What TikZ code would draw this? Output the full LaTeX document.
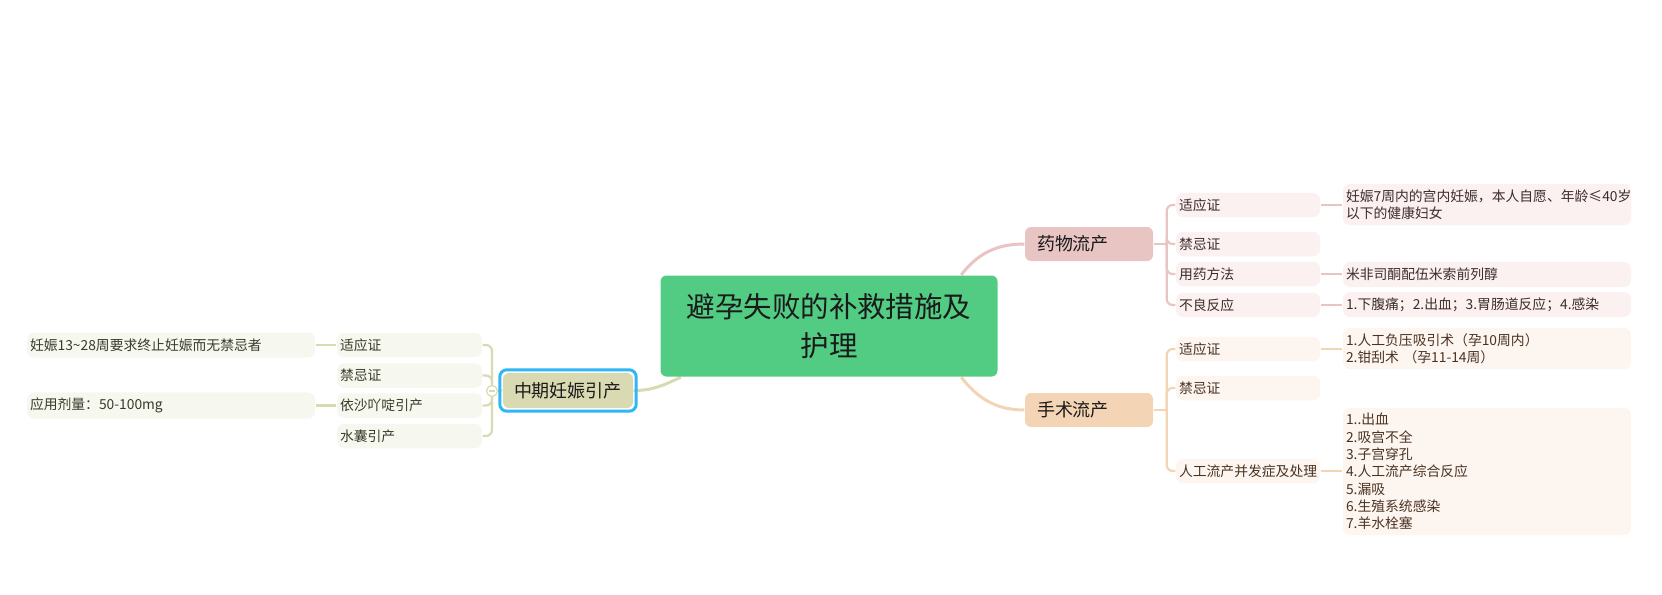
\documentclass[tikz,border=0pt]{standalone}
\usepackage{fontspec}
\setmainfont{Noto Sans CJK SC}
\usetikzlibrary{backgrounds}
\definecolor{RootGreen}{HTML}{52CC83}
\definecolor{DrugFill}{HTML}{E8C4C3}
\definecolor{DrugSub}{HTML}{FBF1F0}
\definecolor{DrugText}{HTML}{3E2C2C}
\definecolor{SurgFill}{HTML}{F3D4B4}
\definecolor{SurgSub}{HTML}{FDF5F0}
\definecolor{SurgText}{HTML}{4A3322}
\definecolor{MidFill}{HTML}{D9DAB2}
\definecolor{MidSub}{HTML}{F6F7EE}
\definecolor{MidText}{HTML}{3A3A2A}
\definecolor{SelBlue}{HTML}{2EB6F7}
\definecolor{Ink}{HTML}{1A1A1A}

\begin{document}
\begin{tikzpicture}[
  root/.style={fill=RootGreen, rounded corners=0.06cm, minimum width=3.37cm,
    minimum height=1.01cm, align=center, text=Ink,
    font=\fontsize{8.1}{11.1}\selectfont},
  topic/.style={rounded corners=0.06cm, inner xsep=0.12cm, inner ysep=0pt,
    text width=1.04cm, align=left, minimum height=0.34cm, text=Ink,
    font=\fontsize{5.12}{6}\selectfont},
  subbox/.style={rounded corners=0.07cm, inner xsep=0.03cm, inner ysep=0pt,
    text width=1.38cm, align=left, minimum height=0.245cm,
    font=\fontsize{3.93}{4.92}\selectfont},
  leafbox/.style={rounded corners=0.07cm, inner xsep=0.03cm, inner ysep=0.055cm,
    text width=2.82cm, align=left, minimum height=0.25cm,
    font=\fontsize{3.93}{4.92}\selectfont},
  mainlink/.style={line width=0.03cm},
  branch/.style={line width=0.022cm},
  foldmark/.style={circle, draw=MidFill, fill=white, line width=0.012cm,
    minimum size=0.11cm, inner sep=0pt}
]

  \useasboundingbox (0,0) rectangle (16.62,5.94);

  % -------------------------------------------------------
  % Central topic
  % -------------------------------------------------------
  \node[root] (root) at (8.29, 2.68) {避孕失败的补救措施及\\护理};

  % -------------------------------------------------------
  % Branch: drug abortion (upper right)
  % -------------------------------------------------------
  \node[topic, fill=DrugFill] (drug) at (10.89, 3.50) {药物流产};
  \coordinate (drugJ) at ([xshift=0.13cm]drug.east);

  \node[subbox, fill=DrugSub, text=DrugText] (ds1) at (12.48, 3.89) {适应证};
  \node[subbox, fill=DrugSub, text=DrugText] (ds2) at (12.48, 3.50) {禁忌证};
  \node[subbox, fill=DrugSub, text=DrugText] (ds3) at (12.48, 3.20) {用药方法};
  \node[subbox, fill=DrugSub, text=DrugText] (ds4) at (12.48, 2.89) {不良反应};

  \node[leafbox, fill=DrugSub, text=DrugText] (dl1) at (14.87, 3.895)
    {妊娠7周内的宫内妊娠，本人自愿、年龄≤40岁\\以下的健康妇女};
  \node[leafbox, fill=DrugSub, text=DrugText] (dl3) at (14.87, 3.195)
    {米非司酮配伍米索前列醇};
  \node[leafbox, fill=DrugSub, text=DrugText] (dl4) at (14.87, 2.895)
    {1.下腹痛；2.出血；3.胃肠道反应；4.感染};

  % -------------------------------------------------------
  % Branch: surgical abortion (lower right)
  % -------------------------------------------------------
  \node[topic, fill=SurgFill] (surg) at (10.89, 1.84) {手术流产};
  \coordinate (surgJ) at ([xshift=0.13cm]surg.east);

  \node[subbox, fill=SurgSub, text=SurgText] (ss1) at (12.48, 2.45) {适应证};
  \node[subbox, fill=SurgSub, text=SurgText] (ss2) at (12.48, 2.06) {禁忌证};
  \node[subbox, fill=SurgSub, text=SurgText] (ss3) at (12.48, 1.23) {人工流产并发症及处理};

  \node[leafbox, fill=SurgSub, text=SurgText] (sl1) at (14.87, 2.455)
    {1.人工负压吸引术（孕10周内）\\2.钳刮术 （孕11-14周）};
  \node[leafbox, fill=SurgSub, text=SurgText] (sl3) at (14.87, 1.225)
    {1..出血\\2.吸宫不全\\3.子宫穿孔\\4.人工流产综合反应\\5.漏吸\\6.生殖系统感染\\7.羊水栓塞};

  % -------------------------------------------------------
  % Branch: mid-term induction (left, selected)
  % -------------------------------------------------------
  \node[topic, fill=MidFill, text width=1.08cm, inner xsep=0.11cm,
    minimum height=0.35cm] (mid) at (5.68, 2.035) {中期妊娠引产};
  \draw[SelBlue, line width=0.03cm, rounded corners=0.07cm]
    ([shift={(-0.025,-0.025)}]mid.south west) rectangle
    ([shift={(0.025,0.025)}]mid.north east);

  \node[subbox, fill=MidSub, text=MidText, text width=1.39cm] (ms1) at (4.095, 2.49) {适应证};
  \node[subbox, fill=MidSub, text=MidText, text width=1.39cm] (ms2) at (4.095, 2.185) {禁忌证};
  \node[subbox, fill=MidSub, text=MidText, text width=1.39cm] (ms3) at (4.095, 1.885) {依沙吖啶引产};
  \node[subbox, fill=MidSub, text=MidText, text width=1.39cm] (ms4) at (4.095, 1.58) {水囊引产};

  \node[leafbox, fill=MidSub, text=MidText] (ml1) at (1.71, 2.49)
    {妊娠13\textasciitilde28周要求终止妊娠而无禁忌者};
  \node[leafbox, fill=MidSub, text=MidText] (ml3) at (1.71, 1.885)
    {应用剂量：50-100mg};

  % Collapse marker
  \node[foldmark] (midfold) at (4.92, 2.03) {};
  \draw[MidFill, line width=0.012cm]
    ([xshift=-0.03cm]midfold.center) -- ([xshift=0.03cm]midfold.center);

  % -------------------------------------------------------
  % Connectors (behind the boxes)
  % -------------------------------------------------------
  \begin{scope}[on background layer]
    % root to main topics
    \draw[mainlink, DrugFill] ([xshift=-0.37cm]root.north east)
      to[out=52, in=180] (drug.west);
    \draw[mainlink, SurgFill] ([xshift=-0.37cm]root.south east)
      to[out=-52, in=180] (surg.west);
    \draw[mainlink, MidFill] (mid.east)
      to[out=0, in=205] ([xshift=0.21cm]root.south west);

    % drug branch
    \draw[branch, DrugFill] (drug.east) -- (drugJ);
    \draw[branch, DrugFill, rounded corners=0.06cm] (drugJ) |- (ds1.west);
    \draw[branch, DrugFill, rounded corners=0.06cm] (drugJ) |- (ds2.west);
    \draw[branch, DrugFill, rounded corners=0.06cm] (drugJ) |- (ds3.west);
    \draw[branch, DrugFill, rounded corners=0.06cm] (drugJ) |- (ds4.west);
    \draw[branch, DrugFill] (ds1.east) -- (ds1.east -| dl1.west);
    \draw[branch, DrugFill] (ds3.east) -- (ds3.east -| dl3.west);
    \draw[branch, DrugFill] (ds4.east) -- (ds4.east -| dl4.west);

    % surgical branch
    \draw[branch, SurgFill] (surg.east) -- (surgJ);
    \draw[branch, SurgFill, rounded corners=0.06cm] (surgJ) |- (ss1.west);
    \draw[branch, SurgFill, rounded corners=0.06cm] (surgJ) |- (ss2.west);
    \draw[branch, SurgFill, rounded corners=0.06cm] (surgJ) |- (ss3.west);
    \draw[branch, SurgFill] (ss1.east) -- (ss1.east -| sl1.west);
    \draw[branch, SurgFill] (ss3.east) -- (ss3.east -| sl3.west);

    % mid-term branch
    \draw[branch, MidFill] (mid.west) -- (midfold.center);
    \draw[branch, MidFill, rounded corners=0.06cm] (midfold.center) |- (ms1.east);
    \draw[branch, MidFill, rounded corners=0.06cm] (midfold.center) |- (ms2.east);
    \draw[branch, MidFill, rounded corners=0.06cm] (midfold.center) |- (ms3.east);
    \draw[branch, MidFill, rounded corners=0.06cm] (midfold.center) |- (ms4.east);
    \draw[branch, MidFill] (ms1.west) -- (ms1.west -| ml1.east);
    \draw[branch, MidFill] (ms3.west) -- (ms3.west -| ml3.east);
  \end{scope}

\end{tikzpicture}
\end{document}
